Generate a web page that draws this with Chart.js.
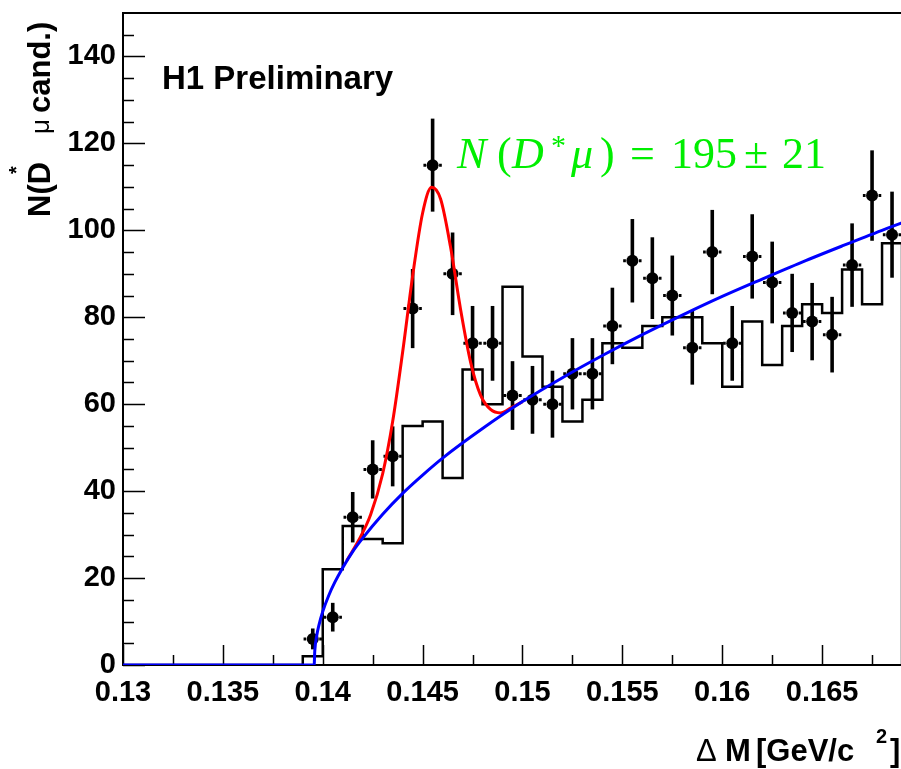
<!doctype html>
<html lang="en">
<head>
<meta charset="utf-8">
<title>H1 Preliminary - D* mu candidates</title>
<script src="https://cdn.jsdelivr.net/npm/chart.js"></script>
<style>
  html, body { margin: 0; padding: 0; background: #fff; overflow: hidden; }
  #wrap { position: absolute; left: 0; top: 0; width: 960px; height: 769px; }
</style>
</head>
<body>
<div id="wrap"><canvas id="myChart" width="960" height="769"></canvas></div>
<script>
// --- data ---
const binWidth = 0.001;
const binCenters = [0.1395, 0.1405, 0.1415, 0.1425, 0.1435, 0.1445, 0.1455, 0.1465, 0.1475, 0.1485,
                    0.1495, 0.1505, 0.1515, 0.1525, 0.1535, 0.1545, 0.1555, 0.1565, 0.1575, 0.1585,
                    0.1595, 0.1605, 0.1615, 0.1625, 0.1635, 0.1645, 0.1655, 0.1665, 0.1675, 0.1685];
const candidates = [6, 11, 34, 45, 48, 82, 115, 90, 74, 74,
                    62, 61, 60, 67, 67, 78, 93, 89, 85, 73,
                    95, 74, 94, 88, 81, 79, 76, 92, 108, 99];
const candErr = [2.4, 3.3, 5.8, 6.7, 6.9, 9.1, 10.7, 9.5, 8.6, 8.6,
                 7.9, 7.8, 7.7, 8.2, 8.2, 8.8, 9.6, 9.4, 9.2, 8.5,
                 9.7, 8.6, 9.7, 9.4, 9.0, 8.9, 8.7, 9.6, 10.4, 9.9];

// wrong charge histogram, bins of 0.001 starting at 0.130
const histStart = 0.130;
const histValues = [0, 0, 0, 0, 0, 0, 0, 0, 0,
                    2, 22, 32, 29, 28, 55, 56, 43, 68, 60,
                    87, 71, 64, 56, 61, 74, 73, 78, 80, 80,
                    74, 64, 79, 69, 78, 83, 81, 91, 83, 97];

// background fit (blue)
const bgX = [0.13, 0.13957, 0.1396, 0.1397, 0.1398, 0.14, 0.1403, 0.1406, 0.141, 0.1415, 0.142, 0.143,
             0.144, 0.145, 0.146, 0.148, 0.15, 0.152, 0.154, 0.156, 0.158, 0.16, 0.162, 0.164, 0.166, 0.168, 0.17];
const bgY = [0, 0, 3.2, 6.8, 9.0, 12.3, 16.0, 19.0, 22.4, 26.1, 29.2, 34.7,
             39.5, 43.7, 47.6, 54.4, 60.6, 66.1, 71.2, 76.0, 80.5, 84.8, 88.8, 92.7, 96.4, 100.0, 103.4];

// signal + background fit (red)
const sigX = [0.1412, 0.1418, 0.1424, 0.143, 0.1435, 0.144, 0.1445, 0.145, 0.14545, 0.1459,
              0.1464, 0.1469, 0.1474, 0.1479, 0.1484, 0.1489, 0.1494, 0.15];
const sigY = [24.0, 28.7, 34.6, 44.0, 56.0, 72.0, 89.5, 104.0, 109.9, 107.2,
              96.1, 81.8, 69.7, 62.1, 58.8, 58.0, 59.1, 60.6];

const xTickValues = [0.13, 0.135, 0.14, 0.145, 0.15, 0.155, 0.16, 0.165];
const xTickLabels = ['0.13', '0.135', '0.14', '0.145', '0.15', '0.155', '0.16', '0.165'];
const yTickValues = [0, 20, 40, 60, 80, 100, 120, 140];
const yTickLabels = ['0', '20', '40', '60', '80', '100', '120', '140'];

// --- build datasets ---
const histPoints = [];
histValues.forEach((v, i) => {
  const lo = histStart + i * binWidth;
  histPoints.push({ x: lo, y: v }, { x: lo + binWidth, y: v });
});
histPoints.push({ x: histStart + histValues.length * binWidth, y: 0 });

const dataPoints = binCenters.map((c, i) => ({ x: c, y: candidates[i] }));
const bgPoints = bgX.map((x, i) => ({ x: x, y: bgY[i] }));
const sigPoints = sigX.map((x, i) => ({ x: x, y: sigY[i] }));

const SANS = '"Liberation Sans", Arial, Helvetica, sans-serif';
const SERIF = '"Liberation Serif", "Times New Roman", serif';

const rootStyle = {
  id: 'rootStyle',
  beforeDatasetsDraw(chart) {
    const ctx = chart.ctx, xs = chart.scales.x, ys = chart.scales.y, a = chart.chartArea;
    ctx.save();
    ctx.strokeStyle = '#000';
    // frame top
    ctx.lineWidth = 2;
    ctx.beginPath();
    ctx.moveTo(a.left, a.top); ctx.lineTo(a.right, a.top);
    ctx.stroke();
    // inward ticks
    ctx.lineWidth = 1.5;
    ctx.beginPath();
    for (let v = 0; v < 150; v += 5) {
      const y = Math.round(ys.getPixelForValue(v)) + 0.5;
      const len = v % 20 === 0 ? 22 : 11;
      ctx.moveTo(a.left, y); ctx.lineTo(a.left + len, y);
    }
    for (let k = 0; k <= 16; k++) {
      const v = 0.13 + k * 0.0025;
      const x = Math.round(xs.getPixelForValue(v)) + 0.5;
      const len = k % 2 === 0 ? 20 : 10;
      ctx.moveTo(x, a.bottom); ctx.lineTo(x, a.bottom - len);
    }
    ctx.stroke();
    ctx.restore();
  },
  beforeDatasetDraw(chart, args) {
    if (args.index !== 1) return;
    const ctx = chart.ctx, xs = chart.scales.x, ys = chart.scales.y;
    ctx.save();
    ctx.strokeStyle = '#000';
    binCenters.forEach((c, i) => {
      const x = xs.getPixelForValue(c);
      const y = ys.getPixelForValue(candidates[i]);
      ctx.lineWidth = 3.6;
      ctx.beginPath();
      ctx.moveTo(x, ys.getPixelForValue(candidates[i] - candErr[i]));
      ctx.lineTo(x, ys.getPixelForValue(candidates[i] + candErr[i]));
      ctx.stroke();
      const xl = xs.getPixelForValue(c - binWidth / 2);
      const xr = xs.getPixelForValue(c + binWidth / 2);
      ctx.lineWidth = 3;
      ctx.beginPath();
      ctx.moveTo(xl + 0.8, y); ctx.lineTo(x - 6.5, y);
      ctx.moveTo(x + 6.5, y); ctx.lineTo(xr - 0.8, y);
      ctx.stroke();
    });
    ctx.restore();
  },
  afterDraw(chart) {
    const ctx = chart.ctx;
    ctx.save();
    ctx.textBaseline = 'alphabetic';
    ctx.textAlign = 'left';
    ctx.fillStyle = '#000';

    // H1 Preliminary
    ctx.font = 'bold 33px ' + SANS;
    ctx.fillText('H1 Preliminary', 162, 89);

    // fit result
    ctx.fillStyle = '#00ee00';
    const gb = 168;
    const parts = [
      ['N', 'italic', 457], ['(', 'normal', 497], ['D', 'italic', 512],
      ['\u03bc', 'italic', 571], [')', 'normal', 600], ['=', 'normal', 630],
      ['195', 'normal', 671], ['\u00b1', 'normal', 744], ['21', 'normal', 782]
    ];
    parts.forEach(p => {
      ctx.font = p[1] + ' 44px ' + SERIF;
      ctx.fillText(p[0], p[2], gb);
    });
    ctx.font = '30px ' + SERIF;
    ctx.fillText('*', 551, gb - 13);

    // x axis title
    ctx.fillStyle = '#000';
    const xb = 761;
    ctx.font = '31px ' + SANS;
    ctx.fillText('\u0394', 696, xb);
    ctx.font = 'bold 31px ' + SANS;
    ctx.fillText('M', 725, xb);
    ctx.fillText('[GeV/c', 756, xb);
    ctx.fillText(']', 890, xb);
    ctx.font = 'bold 20px ' + SANS;
    ctx.fillText('2', 876, xb - 18);

    // y axis title (rotated)
    ctx.translate(50, 217);
    ctx.rotate(-Math.PI / 2);
    ctx.font = 'bold 31px ' + SANS;
    ctx.fillText('N(D', 0, 0);
    ctx.fillText('cand.)', 104, 0);
    ctx.font = 'bold 20px ' + SANS;
    ctx.fillText('*', 43, -27);
    ctx.font = '26px ' + SANS;
    ctx.fillText('\u03bc', 83, -1);
    ctx.restore();
  }
};

const ctx = document.getElementById('myChart');
const myChart = new Chart(ctx, {
  type: 'scatter',
  data: {
    datasets: [
      { label: 'wrong charge', type: 'line', data: histPoints, borderColor: '#000', borderWidth: 2.5,
        pointRadius: 0, tension: 0, fill: false, order: 4 },
      { label: 'data', data: dataPoints, backgroundColor: '#000', borderColor: '#000',
        pointRadius: 6, borderWidth: 0, order: 3 },
      { label: 'signal + background', type: 'line', data: sigPoints, borderColor: '#ff0000', borderWidth: 3,
        pointRadius: 0, cubicInterpolationMode: 'monotone', fill: false, order: 2 },
      { label: 'background', type: 'line', data: bgPoints, borderColor: '#0000ff', borderWidth: 3,
        pointRadius: 0, cubicInterpolationMode: 'monotone', fill: false, order: 1 }
    ]
  },
  options: {
    responsive: false,
    animation: false,
    devicePixelRatio: 1,
    layout: { padding: { left: 0, top: 13, right: 38, bottom: 0 } },
    plugins: { legend: { display: false }, tooltip: { enabled: false } },
    scales: {
      x: {
        type: 'linear', min: 0.13, max: 0.17,
        afterBuildTicks: s => { s.ticks = xTickValues.map(v => ({ value: v })); },
        afterFit: s => { s.height = 104; s.paddingLeft = 0; s.paddingRight = 0; },
        grid: { display: false, drawTicks: false },
        border: { display: true, color: '#000', width: 2 },
        ticks: {
          color: '#000', padding: 11, maxRotation: 0, autoSkip: false,
          font: { family: SANS, size: 29, weight: 'bold' },
          callback: (v, i) => xTickLabels[i]
        }
      },
      y: {
        min: 0, max: 150,
        afterBuildTicks: s => { s.ticks = yTickValues.map(v => ({ value: v })); },
        afterFit: s => { s.width = 123; s.paddingTop = 0; s.paddingBottom = 0; },
        grid: { display: false, drawTicks: false },
        border: { display: true, color: '#000', width: 2 },
        ticks: {
          color: '#000', padding: 7, autoSkip: false,
          font: { family: SANS, size: 29, weight: 'bold' },
          callback: (v, i) => yTickLabels[i]
        }
      }
    }
  },
  plugins: [rootStyle]
});
</script>
</body>
</html>
